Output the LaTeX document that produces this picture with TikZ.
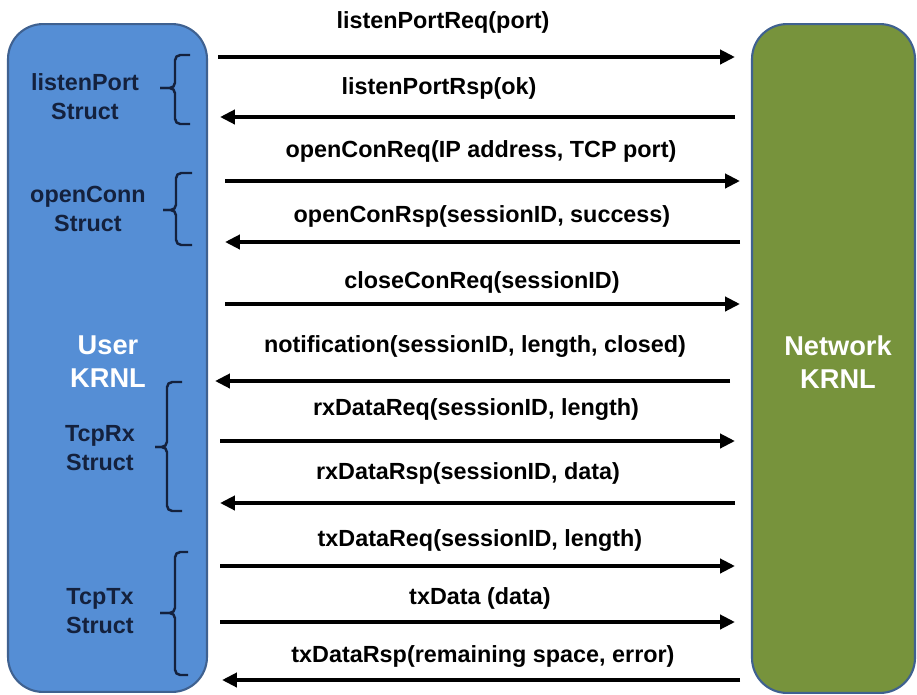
\documentclass[tikz,border=0pt]{standalone}
\usepackage{fontspec}
\setmainfont{Liberation Sans}
\usetikzlibrary{arrows.meta}

\definecolor{userblue}{HTML}{558ED5}
\definecolor{netgreen}{HTML}{77933C}
\definecolor{boxline}{HTML}{3F6190}
\definecolor{navy}{HTML}{14213D}

\begin{document}
\begin{tikzpicture}[x=0.02cm, y=-0.02cm,
  >={Triangle[length=8.5pt,width=8pt]},
  kbox/.style={draw=boxline, line width=1.2pt, rounded corners=0.7cm},
  kname/.style={text=white, align=center,
    font=\fontsize{15.5}{18.7}\selectfont\bfseries},
  msg/.style={line width=2.5pt, ->},
  msglbl/.style={font=\fontsize{13.3}{16}\selectfont\bfseries},
  structlbl/.style={font=\fontsize{13.3}{16.4}\selectfont\bfseries,
    text=navy, align=center},
  structbrace/.style={draw=navy, line width=1.4pt, rounded corners=3pt}]

  \useasboundingbox (0,0) rectangle (917,694);

  % Kernels
  \node[kbox, fill=userblue, minimum width=3.98cm, minimum height=13.36cm]
    (user) at (107.5,358) {};
  \node[kbox, fill=netgreen, minimum width=3.26cm, minimum height=13.38cm]
    (network) at (833.5,358.5) {};
  \node[kname] (username) at (108,362) {User\\KRNL};
  \node[kname] (netname) at (838,362) {Network\\KRNL};

  % Messages: index / y / from x / to x / label x / label y / text
  \foreach \i/\y/\xa/\xb/\lx/\ly/\txt in {
      1/57/218/735/443/22/{listenPortReq(port)},
      2/117/735/220/439/88/{listenPortRsp(ok)},
      3/181/225/740/481/151/{openConReq(IP address, TCP port)},
      4/242/740/225/482/216/{openConRsp(sessionID, success)},
      5/304/225/740/482/282/{closeConReq(sessionID)},
      6/381/730/215/475/347/{notification(sessionID, length, closed)},
      7/441/220/735/476/410/{rxDataReq(sessionID, length)},
      8/503/735/220/468/473/{rxDataRsp(sessionID, data)},
      9/566/220/735/480/541/{txDataReq(sessionID, length)},
      10/622/220/735/480/598/{txData (data)},
      11/680/740/222/483/656/{txDataRsp(remaining space, error)}} {
    \coordinate (s\i) at (\xa,\y);
    \coordinate (t\i) at (\xb,\y);
    \draw[msg] (s\i) -- (t\i);
    \node[msglbl] (l\i) at (\lx,\ly) {\txt};
  }

  % Struct labels
  \node[structlbl] (listen) at (85,97) {listenPort\\Struct};
  \node[structlbl] (open) at (88,209) {openConn\\Struct};
  \node[structlbl] (rx) at (100,448) {TcpRx\\Struct};
  \node[structlbl] (tx) at (100,611) {TcpTx\\Struct};

  % Braces: top / middle / bottom / spine x / tip x / end x
  \foreach \ya/\ym/\yb/\vx/\tx/\ex in {
      55/88/124/175/160/190,
      173/210/245/176/163/192,
      382/447/511/167/155/182,
      552/613/675/175/160/188} {
    \draw[structbrace] (\ex,\ya) -| (\vx,\ym) -- (\tx,\ym);
    \draw[structbrace] (\tx,\ym) -- (\vx,\ym) |- (\ex,\yb);
  }
\end{tikzpicture}
\end{document}
